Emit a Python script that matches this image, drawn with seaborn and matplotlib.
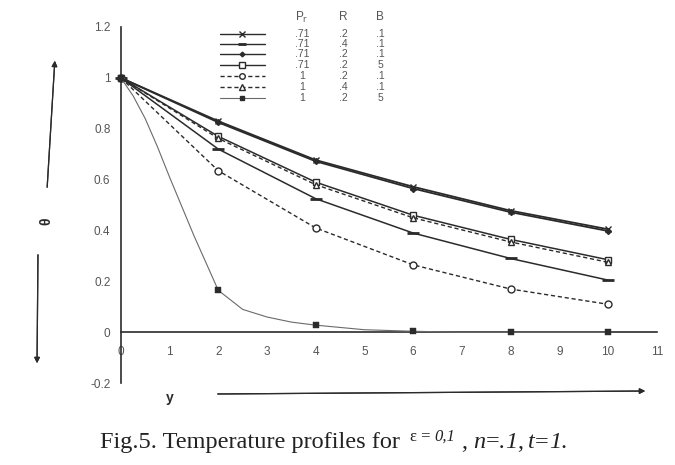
import matplotlib
matplotlib.use("Agg")
import numpy as np
import pandas as pd
import seaborn as sns
from matplotlib import pyplot as plt
from matplotlib.lines import Line2D

# values
y_even = [0, 2, 4, 6, 8, 10]
pr_vals = ['.71', '.71', '.71', '.71', '1', '1', '1']
r_vals = ['.2', '.4', '.2', '.2', '.2', '.4', '.2']
b_vals = ['.1', '.1', '.1', '5', '.1', '.1', '5']

theta_1 = [1.0, 0.83, 0.677, 0.572, 0.478, 0.405]
theta_2 = [1.0, 0.72, 0.525, 0.39, 0.29, 0.205]
theta_3 = [1.0, 0.825, 0.672, 0.565, 0.472, 0.398]
theta_4 = [1.0, 0.77, 0.59, 0.46, 0.365, 0.285]
theta_5 = [1.0, 0.635, 0.41, 0.265, 0.17, 0.11]
theta_6 = [1.0, 0.762, 0.58, 0.45, 0.355, 0.275]
# thin curve, read at finer steps
y_fine = [0, 0.25, 0.5, 0.75, 1, 1.5, 2, 2.5, 3, 3.5, 4, 5, 6, 7, 8, 9, 10]
theta_7 = [1.0, 0.93, 0.84, 0.73, 0.61, 0.38, 0.165, 0.09, 0.06, 0.04, 0.028, 0.01, 0.004, 0.0, 0.0, 0.0, 0.0]

sns.set_style("white")
plt.rcParams['font.family'] = ['Liberation Sans', 'DejaVu Sans']

fig = plt.figure(figsize=(6.75, 4.65), dpi=100)
ax = fig.add_axes([0.179, 0.176, 0.794, 0.766])

dark = '#2b2b2b'
styles = [
    dict(marker='x', ms=5, mfc=dark, ls='-', lw=1.3, color=dark),
    dict(marker='_', ms=8, mew=2, ls='-', lw=1.1, color=dark),
    dict(marker='D', ms=3, mfc=dark, ls='-', lw=1.3, color=dark),
    dict(marker='s', ms=5, mfc='white', ls='-', lw=1.1, color=dark),
    dict(marker='o', ms=5, mfc='white', ls=(0, (3, 2)), lw=1.0, color=dark),
    dict(marker='^', ms=5, mfc='white', ls=(0, (3, 2)), lw=1.0, color=dark),
    dict(marker='s', ms=4, mfc=dark, ls='-', lw=0.8, color='#6a6a6a'),
]
series = [theta_1, theta_2, theta_3, theta_4, theta_5, theta_6]

for vals, st in zip(series, styles[:6]):
    df = pd.DataFrame({'y': y_even, 'theta': vals})
    sns.lineplot(data=df, x='y', y='theta', ax=ax, color=st['color'],
                 linestyle=st['ls'], linewidth=st['lw'], marker=st['marker'],
                 markersize=st['ms'], markerfacecolor=st.get('mfc', st['color']),
                 markeredgecolor=st['color'], markeredgewidth=st.get('mew', 1.0),
                 clip_on=False, zorder=3)

# thin curve: line through finer readings, markers on even y only
df7 = pd.DataFrame({'y': y_fine, 'theta': theta_7})
sns.lineplot(data=df7, x='y', y='theta', ax=ax, color=styles[6]['color'],
             linewidth=styles[6]['lw'], clip_on=False, zorder=3)
df7m = df7[df7['y'].isin(y_even)]
sns.scatterplot(data=df7m, x='y', y='theta', ax=ax, marker='s', s=14,
                color=dark, edgecolor=dark, clip_on=False, zorder=4)

ax.set_xlim(0, 11)
ax.set_ylim(-0.2, 1.2)
ax.set_xticks(range(0, 12))
ax.set_yticks([-0.2, 0, 0.2, 0.4, 0.6, 0.8, 1.0, 1.2])
ax.set_yticklabels(['-0.2', '0', '0.2', '0.4', '0.6', '0.8', '1', '1.2'])
ax.spines['left'].set_position(('data', 0))
ax.spines['bottom'].set_position(('data', 0))
ax.spines['top'].set_visible(False)
ax.spines['right'].set_visible(False)
for sp in ['left', 'bottom']:
    ax.spines[sp].set_color(dark)
    ax.spines[sp].set_linewidth(1.2)
ax.tick_params(axis='both', direction='inout', length=8, width=1,
               color=dark, labelsize=8.5, labelcolor='#555555')
ax.tick_params(axis='x', pad=6)
ax.set_xlabel('')
ax.set_ylabel('')
ax.patch.set_alpha(0)

# legend table
leg_fs = 7.5
fig.text(302 / 675, 1 - 17 / 465, r'P$_{\mathrm{r}}$', ha='center', va='center',
         fontsize=8.5, color='#555555')
fig.text(343 / 675, 1 - 17 / 465, 'R', ha='center', va='center', fontsize=8.5, color='#555555')
fig.text(380 / 675, 1 - 17 / 465, 'B', ha='center', va='center', fontsize=8.5, color='#555555')
rows_y = [34, 44, 54, 65, 76, 87, 98]
for i, ry in enumerate(rows_y):
    st = styles[i]
    yy = 1 - ry / 465
    mfc = st.get('mfc', st['color'])
    ln = Line2D([220 / 675, 265 / 675], [yy, yy], transform=fig.transFigure,
                color=st['color'], linestyle=st['ls'], linewidth=min(st['lw'], 1.0))
    fig.add_artist(ln)
    mk = Line2D([242 / 675], [yy], transform=fig.transFigure, marker=st['marker'],
                markersize=st['ms'] * 0.8, markerfacecolor=mfc,
                markeredgecolor=dark, markeredgewidth=st.get('mew', 1.0), linestyle='none')
    fig.add_artist(mk)
    fig.text(302 / 675, yy, pr_vals[i], ha='center', va='center', fontsize=leg_fs, color='#555555')
    fig.text(343 / 675, yy, r_vals[i], ha='center', va='center', fontsize=leg_fs, color='#555555')
    fig.text(380 / 675, yy, b_vals[i], ha='center', va='center', fontsize=leg_fs, color='#555555')

# theta label and arrows
fig.text(46 / 675, 1 - 221 / 465, 'θ', rotation=90, ha='center', va='center',
         fontsize=10, fontweight='bold', color=dark)
arrow_kw = dict(arrowstyle='-|>', color=dark, lw=0.9, mutation_scale=8)
fig.add_artist(plt.annotate('', xy=(55 / 675, 1 - 58 / 465), xytext=(47 / 675, 1 - 190 / 465),
                            xycoords='figure fraction', textcoords='figure fraction',
                            arrowprops=arrow_kw))
fig.add_artist(plt.annotate('', xy=(37 / 675, 1 - 366 / 465), xytext=(38 / 675, 1 - 252 / 465),
                            xycoords='figure fraction', textcoords='figure fraction',
                            arrowprops=arrow_kw))

# y label and arrow
fig.text(170 / 675, 1 - 398 / 465, 'y', ha='center', va='center', fontsize=10,
         fontweight='bold', color=dark)
fig.add_artist(plt.annotate('', xy=(648 / 675, 1 - 391 / 465), xytext=(215 / 675, 1 - 394 / 465),
                            xycoords='figure fraction', textcoords='figure fraction',
                            arrowprops=arrow_kw))

# caption, built from pieces (normal / italic / raised)
cap_fs = 17.5
pieces = [
    ('Fig.5. Temperature profiles for', 'normal', cap_fs, 0, 10),
    ('ε = ', 'normal', 12, 7, 0),
    ('0,1', 'italic', 12, 7, 6),
    (',', 'normal', cap_fs, 0, 6),
    ('n', 'italic', cap_fs, 0, 0),
    ('=.', 'normal', cap_fs, 0, 0),
    ('1', 'italic', cap_fs, 0, 0),
    (',', 'normal', cap_fs, 0, 5),
    ('t', 'italic', cap_fs, 0, 0),
    ('=', 'normal', cap_fs, 0, 0),
    ('1', 'italic', cap_fs, 0, 0),
    ('.', 'normal', cap_fs, 0, 0),
]
renderer = fig.canvas.get_renderer()
x_px = 100
base_px = 465 - 448
for txt, style, fs, rise, gap in pieces:
    t = fig.text(x_px / 675, (base_px + rise) / 465, txt, ha='left', va='baseline',
                 fontsize=fs, family='Liberation Serif', style=style, color='#222222')
    w = t.get_window_extent(renderer).width
    x_px += w + gap

fig.savefig('out.png', dpi=100)
